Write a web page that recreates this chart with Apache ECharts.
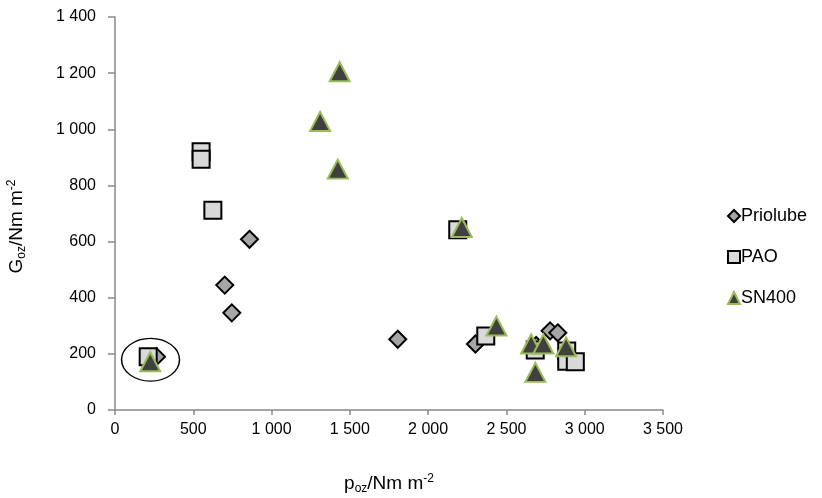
<!DOCTYPE html>
<html>
<head>
<meta charset="utf-8">
<script src="https://cdn.jsdelivr.net/npm/echarts@6/dist/echarts.min.js"></script>
<style>
  html, body { margin: 0; padding: 0; background: #fff; }
  #chart { width: 822px; height: 498px; }
</style>
</head>
<body>
<div id="chart"></div>
<script>
// Measured points: [p_oz (N/mm²), G_oz (N/mm²)]
const seriesNames = ['Priolube', 'PAO', 'SN400'];
const priolube = [[265, 190], [859, 608], [701, 445], [746, 346], [1806, 252], [2302, 235], [2779, 282], [2828, 275], [2690, 230]];
const pao = [[550, 920], [550, 893], [625, 712], [2189, 642], [212, 190], [2368, 264], [2684, 214], [2885, 210], [2885, 174], [2940, 172]];
const sn400 = [[1435, 1205], [1310, 1028], [1423, 858], [2215, 650], [225, 172], [2436, 299], [2658, 235], [2736, 235], [2881, 225], [2685, 134]];

// Axis ranges and steps
const xRange = [0, 3500, 500];
const yRange = [0, 1400, 200];

// Highlighted group near the origin (centre and radii in data units)
const ringCentre = [227, 179];
const ringRadius = [185, 76];

const FONT = "'Liberation Sans', Arial, sans-serif";
const spaced = v => String(v).replace(/\B(?=(\d{3})+(?!\d))/g, ' ');

const chart = echarts.init(document.getElementById('chart'), null, { renderer: 'canvas' });

const nameRich = {
  m: { fontFamily: FONT, fontSize: 19, lineHeight: 22, color: '#000' },
  sub: { fontFamily: FONT, fontSize: 12, lineHeight: 10, verticalAlign: 'bottom', color: '#000' },
  sup: { fontFamily: FONT, fontSize: 12, lineHeight: 10, verticalAlign: 'top', color: '#000' }
};

const axisBase = {
  axisLine: { show: true, onZero: false, lineStyle: { color: '#898989', width: 1.5 } },
  splitLine: { show: false },
  axisLabel: { color: '#000', fontFamily: FONT, fontSize: 16, formatter: spaced },
  nameLocation: 'middle'
};

chart.setOption({
  animation: false,
  backgroundColor: '#fff',
  grid: { left: 115, right: 159, top: 17, bottom: 88, containLabel: false, outerBoundsMode: 'none' },
  xAxis: Object.assign({}, axisBase, {
    type: 'value', min: xRange[0], max: xRange[1], interval: xRange[2],
    axisTick: { show: true, length: 5, lineStyle: { color: '#898989', width: 1.5 } },
    axisLabel: Object.assign({}, axisBase.axisLabel, { margin: 12 }),
    name: '{m|p}{sub|oz}{m|/Nm m}{sup|-2}',
    nameGap: 63,
    nameTextStyle: { color: '#000', fontFamily: FONT, fontSize: 19, rich: nameRich }
  }),
  yAxis: Object.assign({}, axisBase, {
    type: 'value', min: yRange[0], max: yRange[1], interval: yRange[2],
    axisTick: { show: true, length: 7, lineStyle: { color: '#898989', width: 1.5 } },
    axisLabel: Object.assign({}, axisBase.axisLabel, { margin: 19 }),
    name: '{m|G}{sub|oz}{m|/Nm m}{sup|-2}',
    nameGap: 87,
    nameTextStyle: { color: '#000', fontFamily: FONT, fontSize: 19, rich: nameRich, padding: [0, 26, 0, 0] }
  }),
  legend: {
    orient: 'vertical', left: 722, top: 202, itemGap: 23,
    itemWidth: 12, itemHeight: 12,
    textStyle: { color: '#000', fontFamily: FONT, fontSize: 18, padding: [0, 0, 0, -4] },
    data: seriesNames
  },
  series: [
    {
      name: seriesNames[0], type: 'scatter', data: priolube,
      symbol: 'diamond', symbolSize: [17, 17],
      itemStyle: { color: '#a6a6a6', borderColor: '#000', borderWidth: 2, opacity: 1 }
    },
    {
      name: seriesNames[1], type: 'scatter', data: pao,
      symbol: 'rect', symbolSize: [17, 17],
      itemStyle: { color: '#d9d9d9', borderColor: '#000', borderWidth: 2, opacity: 1 }
    },
    {
      name: seriesNames[2], type: 'scatter', data: sn400,
      symbol: 'triangle', symbolSize: [20, 19],
      itemStyle: { color: '#404040', borderColor: '#9bbb59', borderWidth: 2, opacity: 1 }
    }
  ]
});

// Outline around the low-pressure group, placed through the axis scales
const c = chart.convertToPixel({ gridIndex: 0 }, ringCentre);
const e = chart.convertToPixel({ gridIndex: 0 }, [ringCentre[0] + ringRadius[0], ringCentre[1] + ringRadius[1]]);
const rx = Math.abs(e[0] - c[0]);
const ry = Math.abs(e[1] - c[1]);
chart.setOption({
  graphic: [{
    type: 'circle', x: c[0], y: c[1], scaleY: ry / rx,
    shape: { cx: 0, cy: 0, r: rx },
    style: { fill: 'none', stroke: '#000', lineWidth: 1.5, strokeNoScale: true },
    z: 100
  }]
});
</script>
</body>
</html>
